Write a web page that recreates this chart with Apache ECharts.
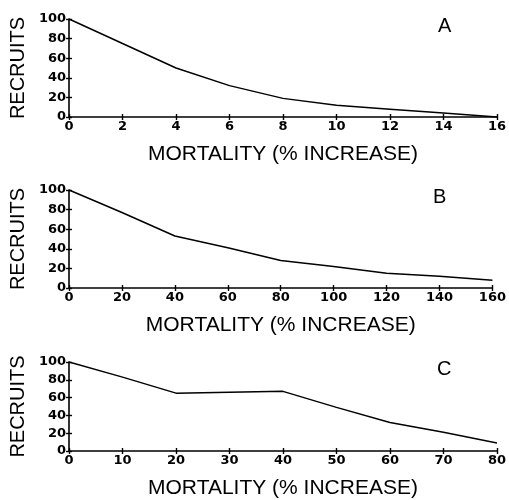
<!DOCTYPE html>
<html><head><meta charset="utf-8">
<script src="https://cdn.jsdelivr.net/npm/echarts@6/dist/echarts.min.js"></script>
<style>html,body{margin:0;padding:0;background:#fff}#c{width:509px;height:500px}</style>
</head><body><div id="c"></div>
<script>
// Panel A
const xA = [0, 2, 4, 6, 8, 10, 12, 14, 16];
const yA = [100, 75, 50, 32, 19, 12, 8, 4, 0];
// Panel B
const xB = [0, 20, 40, 60, 80, 100, 120, 140, 160];
const yB = [100, 77, 53, 41, 28, 22, 15, 12, 8];
// Panel C
const xC = [0, 10, 20, 30, 40, 50, 60, 70, 80];
const yC = [100, 83, 65, 66, 67, 49, 32, 21, 9];
const panelLetters = ['A', 'B', 'C'];
const xMax = [16, 160, 80];
const xStep = [2, 20, 10];
const xName = 'MORTALITY (% INCREASE)';
const yName = 'RECRUITS';

const panels = [[xA, yA], [xB, yB], [xC, yC]];
const grids = [
  {left: 66, right: 11, top: 19, height: 98},
  {left: 66, right: 14, top: 190, height: 98},
  {left: 68, right: 10, top: 362, height: 96}
];
const letterPos = [[438, 16], [433, 187], [437, 359]];

const labelFont = {color: '#000', fontFamily: 'DejaVu Sans', fontWeight: 'bold', fontSize: 13};
const lineStyle = {color: '#000', width: 1.6};

const xAxis = [], yAxis = [], series = [], title = [];
panels.forEach((p, i) => {
  const base = {type: 'value', gridIndex: i, min: 0, splitLine: {show: false}};
  xAxis.push(Object.assign({}, base, {
    max: xMax[i], interval: xStep[i],
    axisLine: {lineStyle: lineStyle},
    axisTick: {lineStyle: {color: '#000', width: 1.4}, length: 3},
    axisLabel: Object.assign({margin: 3}, labelFont),
    name: xName, nameLocation: 'middle', nameGap: 27,
    nameTextStyle: {color: '#000', fontFamily: 'Liberation Sans', fontSize: 21}
  }));
  xAxis.push(Object.assign({}, base, {
    max: xMax[i], interval: xStep[i], position: 'bottom',
    axisLine: {show: false},
    axisTick: {inside: true, lineStyle: {color: '#000', width: 1.4}, length: 3},
    axisLabel: {show: false}
  }));
  yAxis.push(Object.assign({}, base, {
    max: 100, interval: 20,
    axisLine: {show: true, lineStyle: lineStyle},
    axisTick: {show: true, lineStyle: {color: '#000', width: 1.4}, length: 3},
    axisLabel: Object.assign({margin: 3}, labelFont),
    name: yName, nameLocation: 'middle', nameGap: 31, nameRotate: 90,
    nameTextStyle: {color: '#000', fontFamily: 'Liberation Sans', fontSize: 20}
  }));
  yAxis.push(Object.assign({}, base, {
    max: 100, interval: 20, position: 'left',
    axisLine: {show: false},
    axisTick: {show: true, inside: true, lineStyle: {color: '#000', width: 1.4}, length: 3},
    axisLabel: {show: false}
  }));
  series.push({
    type: 'line', xAxisIndex: 2 * i, yAxisIndex: 2 * i,
    data: p[0].map((x, k) => [x, p[1][k]]),
    showSymbol: false, symbol: 'none', silent: true,
    lineStyle: {color: '#000', width: 1.5}
  });
  title.push({
    text: panelLetters[i], left: letterPos[i][0], top: letterPos[i][1], padding: 0,
    textStyle: {color: '#000', fontFamily: 'Liberation Sans', fontWeight: 'normal', fontSize: 20}
  });
});

const chart = echarts.init(document.getElementById('c'), null, {renderer: 'canvas'});
chart.setOption({
  animation: false,
  backgroundColor: '#fff',
  title: title,
  grid: grids,
  xAxis: xAxis,
  yAxis: yAxis,
  series: series
});
</script>
</body></html>
